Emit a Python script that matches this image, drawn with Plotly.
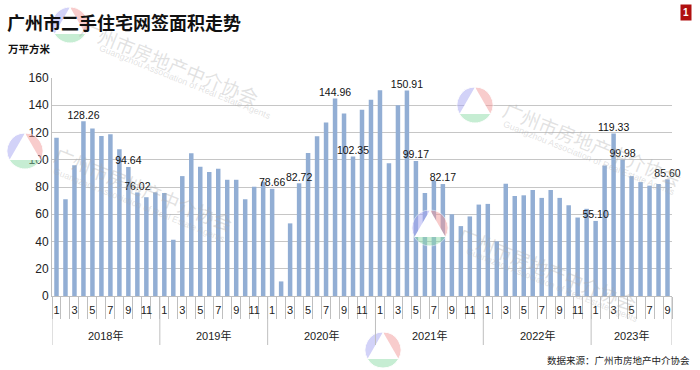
import math
import plotly.graph_objects as go

# ---------------- data ----------------
year_names = ["2018年", "2019年", "2020年", "2021年", "2022年", "2023年"]
months_per_year = [12, 12, 12, 12, 12, 9]
values = [
    116.2, 71.0, 96.0, 128.26, 123.0, 117.4, 118.7, 107.7, 94.64, 76.02, 72.5, 76.1,
    75.6, 41.3, 88.0, 104.8, 94.8, 91.0, 93.4, 85.3, 85.3, 71.0, 80.2, 83.9,
    78.66, 10.7, 53.3, 82.72, 105.0, 117.2, 127.4, 144.96, 134.0, 102.35, 136.7, 144.0,
    151.0, 97.5, 140.0, 150.91, 99.17, 75.6, 84.6, 82.17, 60.0, 51.3, 58.4, 67.1,
    67.6, 40.1, 82.4, 73.4, 73.9, 77.8, 72.0, 77.8, 72.0, 66.6, 57.6, 64.0,
    55.10, 95.8, 119.33, 99.98, 88.0, 83.6, 81.0, 82.2, 85.60,
]
labelled_index = [3, 8, 9, 24, 27, 31, 33, 39, 40, 43, 60, 62, 63, 68]
y_ticks = [0, 20, 40, 60, 80, 100, 120, 140, 160]
title_text = "广州市二手住宅网签面积走势"
unit_text = "万平方米"
source_text = "数据来源：广州市房地产中介协会"
watermark_cn = "广州市房地产中介协会"
watermark_en = "Guangzhou Association of Real Estate Agents"

# ---------------- derived ----------------
months = [m for n in months_per_year for m in range(1, n + 1)]
x_idx = list(range(len(values)))
tick_idx = [i for i, m in enumerate(months) if m % 2 == 1]
tick_txt = [str(months[i]) for i in tick_idx]
lab_x = [x_idx[i] for i in labelled_index]
lab_y = [values[i] for i in labelled_index]
lab_t = [f"{values[i]:.2f}" for i in labelled_index]

W, H = 700, 370
PL, PR, PT, PB = 52, 672, 78, 296  # plot area in pixels


def fx(x):
    return x / W


def fy(y):
    return 1 - y / H


fig = go.Figure(go.Bar(
    x=x_idx,
    y=values,
    marker=dict(color="#92AED4", line=dict(width=0)),
    hoverinfo="y",
    showlegend=False,
))
fig.add_trace(go.Scatter(
    x=lab_x, y=lab_y, text=lab_t, mode="text", textposition="top center",
    textfont=dict(family="Liberation Sans, Arial", size=10.5, color="#111111"),
    cliponaxis=False, hoverinfo="skip", showlegend=False,
))

# ---------------- logos (decoration) ----------------
logo_centres = [(70, 25), (25, 151), (475, 105), (430, 228), (383, 350)]
LR = 18
shapes = []
for cx, cy in logo_centres:
    fig.add_trace(go.Pie(
        values=[1, 1, 1], sort=False, direction="clockwise", rotation=0,
        marker=dict(colors=["#F29A9A", "#8FDCA8", "#A7A6F2"], line=dict(color="white", width=1)),
        opacity=0.5, textinfo="none", hoverinfo="skip", showlegend=False,
        domain=dict(x=[fx(cx - LR), fx(cx + LR)], y=[fy(cy + LR), fy(cy - LR)]),
    ))
    pts = []
    for ang in (90, 330, 210):
        a = math.radians(ang)
        pts.append((fx(cx + LR * math.cos(a)), fy(cy - LR * math.sin(a))))
    path = "M {} {} L {} {} L {} {} Z".format(*[c for p in pts for c in p])
    shapes.append(dict(type="path", path=path, xref="paper", yref="paper",
                       fillcolor="white", line=dict(width=0), layer="above"))

# ---------------- year dividers ----------------
bounds = [-0.5]
for n in months_per_year:
    bounds.append(bounds[-1] + n)
for b in bounds:
    shapes.append(dict(type="line", xref="x", yref="paper", x0=b, x1=b,
                       y0=fy(PB), y1=fy(345), line=dict(color="#BFBFBF", width=1)))

annotations = []
for name, lo, hi in zip(year_names, bounds[:-1], bounds[1:]):
    annotations.append(dict(text=name, x=(lo + hi) / 2, y=fy(335), xref="x", yref="paper",
                            showarrow=False, xanchor="center", yanchor="middle",
                            font=dict(family="Liberation Sans, Noto Sans CJK SC", size=11, color="#222222")))

# ---------------- watermarks ----------------
wm = [((170, 62), (185, 82)), ((144, 188), (139, 205)), ((593, 143), (589, 158)), ((548, 268), (552, 285))]
for (cx, cy), (ex, ey) in wm:
    annotations.append(dict(text=watermark_cn, x=fx(cx), y=fy(cy), xref="paper", yref="paper",
                            showarrow=False, textangle=22, xanchor="center", yanchor="middle",
                            font=dict(family="Noto Sans CJK SC", size=19, color="rgba(170,170,170,0.35)")))
    annotations.append(dict(text=watermark_en, x=fx(ex), y=fy(ey), xref="paper", yref="paper",
                            showarrow=False, textangle=22, xanchor="center", yanchor="middle",
                            font=dict(family="Liberation Sans", size=9, color="rgba(170,170,170,0.35)")))

annotations += [
    dict(text="<b>" + title_text + "</b>", x=fx(5), y=fy(22), xref="paper", yref="paper",
         showarrow=False, xanchor="left", yanchor="middle",
         font=dict(family="Noto Sans CJK SC", size=18, color="#111111")),
    dict(text="<b>" + unit_text + "</b>", x=fx(6), y=fy(48), xref="paper", yref="paper",
         showarrow=False, xanchor="left", yanchor="middle",
         font=dict(family="Noto Sans CJK SC", size=10.5, color="#111111")),
    dict(text="<b>1</b>", x=fx(686), y=fy(12), xref="paper", yref="paper",
         showarrow=False, xanchor="center", yanchor="middle", bgcolor="#B01010", borderpad=2,
         font=dict(family="Liberation Sans", size=10, color="white")),
    dict(text=source_text, x=fx(692), y=fy(360), xref="paper", yref="paper",
         showarrow=False, xanchor="right", yanchor="middle",
         font=dict(family="Noto Sans CJK SC", size=9.5, color="#222222")),
]

fig.update_layout(
    width=W, height=H,
    margin=dict(l=0, r=0, t=0, b=0, autoexpand=False),
    paper_bgcolor="white", plot_bgcolor="white",
    bargap=0.5,
    showlegend=False,
    font=dict(family="Liberation Sans, Noto Sans CJK SC", color="#222222"),
    xaxis=dict(
        domain=[fx(PL), fx(PR)],
        range=[-0.5, len(values) - 0.5],
        tickmode="array", tickvals=tick_idx, ticktext=tick_txt,
        tickfont=dict(size=11, color="#222222"),
        ticks="", ticklabelstandoff=4,
        minor=dict(ticks="outside", tick0=0.5, dtick=1, ticklen=22,
                   tickcolor="#BFBFBF", tickwidth=1, showgrid=False),
        showline=True, linecolor="#BFBFBF",
        showgrid=False, zeroline=False, automargin=False, fixedrange=True,
    ),
    yaxis=dict(
        domain=[fy(PB), fy(PT)],
        range=[0, 160], tickvals=y_ticks,
        tickfont=dict(size=12, color="#222222"),
        showgrid=True, gridcolor="#C6C6C6", gridwidth=1,
        showline=True, linecolor="#BFBFBF",
        zeroline=False, ticks="", automargin=False, fixedrange=True,
    ),
    shapes=shapes,
    annotations=annotations,
)

fig.write_html("out.html", config={"displayModeBar": False},
               post_script="document.body.style.margin='0px';")
